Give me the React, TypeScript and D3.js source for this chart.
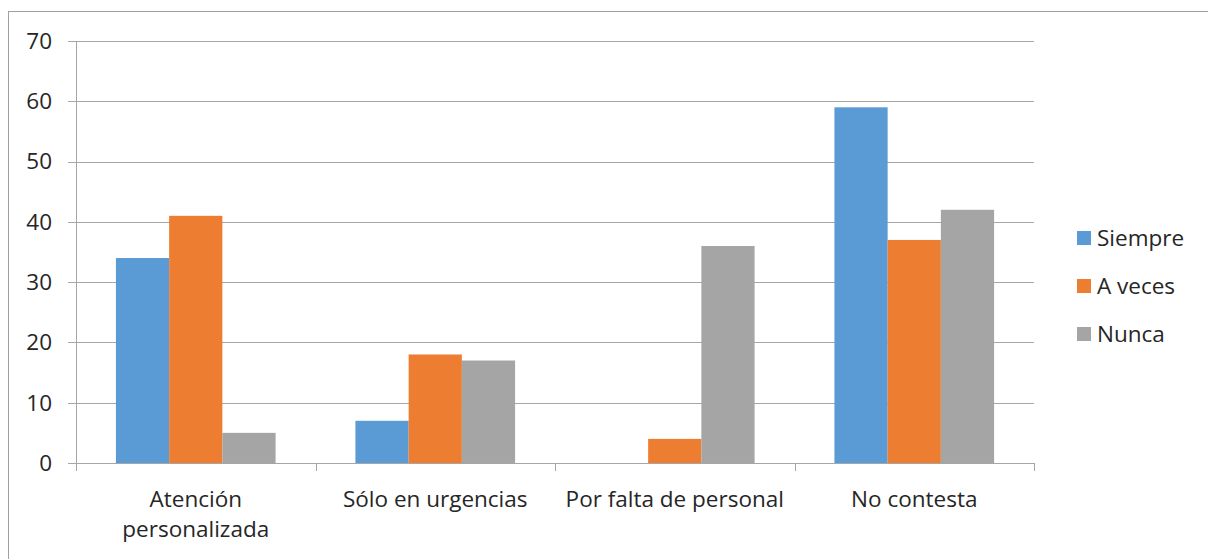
import React from "react";
import * as d3 from "d3";

const categories = ["Atención personalizada", "Sólo en urgencias", "Por falta de personal", "No contesta"];
const categoryLines = [["Atención", "personalizada"], ["Sólo en urgencias"], ["Por falta de personal"], ["No contesta"]];
const seriesNames = ["Siempre", "A veces", "Nunca"];
const siempre = [34, 7, 0, 59];
const aVeces = [41, 18, 4, 37];
const nunca = [5, 17, 36, 42];
const yTicks = [0, 10, 20, 30, 40, 50, 60, 70];
const colors = ["#5B9BD5", "#ED7D31", "#A5A5A5"];

export default function App() {
  const W = 1208, H = 559;
  const left = 76, right = 1034, top = 41, bottom = 463;
  const series = [siempre, aVeces, nunca];
  const x = d3.scaleBand().domain(categories).range([left, right]).paddingInner(0).paddingOuter(0);
  const y = d3.scaleLinear().domain([0, 70]).range([bottom, top]);
  const bw = x.bandwidth();
  const barW = bw / (3 + 1.5);
  const gap = (bw - 3 * barW) / 2;
  const font = "'Open Sans', sans-serif";
  const fs = 22.5;
  const textColor = "#262626";
  const gridColor = "#A6A6A6";
  return (
    <svg width={W} height={H} style={{ position: "absolute", left: 0, top: 0 }}>
      <rect x={0} y={0} width={W} height={H} fill="#fff" />
      <rect x={8.5} y={11.5} width={W + 20} height={H + 20} fill="none" stroke="#A0A0A0" strokeWidth={1} />
      {yTicks.map((t) => (
        <g key={t}>
          {t > 0 && <line x1={left} x2={right} y1={Math.round(y(t)) + 0.5} y2={Math.round(y(t)) + 0.5} stroke={gridColor} strokeWidth={1} />}
          <line x1={left - 8} x2={left} y1={Math.round(y(t)) + 0.5} y2={Math.round(y(t)) + 0.5} stroke={gridColor} strokeWidth={1} />
          <text x={52} y={y(t)} dy="0.35em" textAnchor="end" fontFamily={font} fontSize={fs} fill={textColor}>{t}</text>
        </g>
      ))}
      {categories.map((c, ci) => (
        <g key={c}>
          {series.map((s, si) => (
            <rect key={si} x={(x(c) as number) + gap + si * barW} y={y(s[ci])} width={barW} height={y(0) - y(s[ci])} fill={colors[si]} />
          ))}
        </g>
      ))}
      <line x1={left + 0.5} x2={left + 0.5} y1={top} y2={bottom} stroke={gridColor} strokeWidth={1} />
      <line x1={left} x2={right} y1={bottom + 0.5} y2={bottom + 0.5} stroke={gridColor} strokeWidth={1} />
      {[...categories.map((c) => x(c) as number), right].map((tx, i) => (
        <line key={i} x1={Math.round(tx) + 0.5} x2={Math.round(tx) + 0.5} y1={bottom} y2={bottom + 8} stroke={gridColor} strokeWidth={1} />
      ))}
      {categories.map((c, ci) => (
        <text key={c} x={(x(c) as number) + bw / 2} y={507} textAnchor="middle" fontFamily={font} fontSize={fs} fill={textColor}>
          {categoryLines[ci].map((l, li) => (
            <tspan key={li} x={(x(c) as number) + bw / 2} dy={li === 0 ? 0 : 30}>{l}</tspan>
          ))}
        </text>
      ))}
      {seriesNames.map((n, i) => (
        <g key={n} transform={`translate(1077, ${231 + i * 48})`}>
          <rect x={0} y={0} width={14} height={14} fill={colors[i]} />
          <text x={20} y={15} fontFamily={font} fontSize={fs} fill={textColor}>{n}</text>
        </g>
      ))}
    </svg>
  );
}
